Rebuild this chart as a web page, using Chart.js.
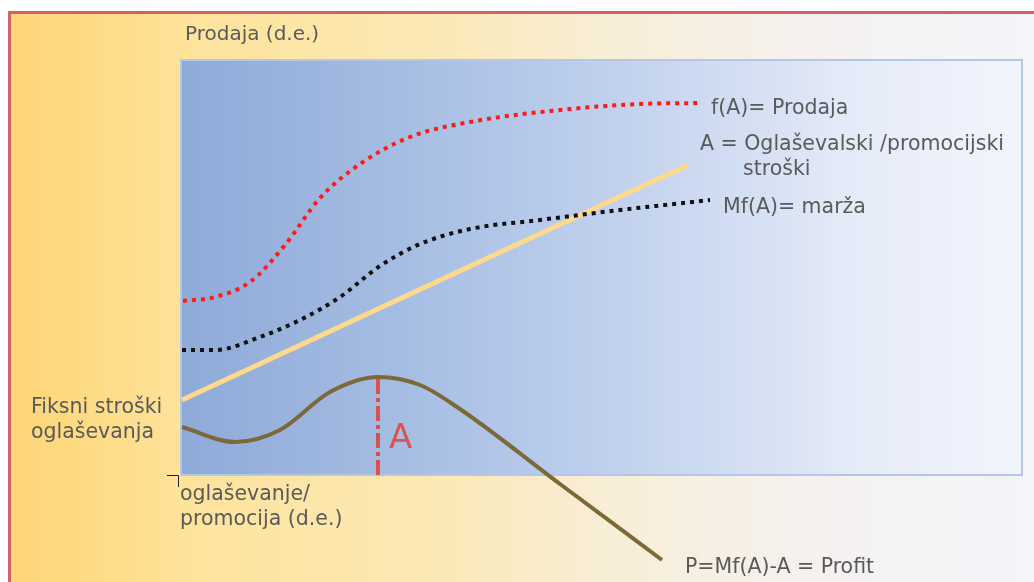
<!DOCTYPE html>
<html>
<head>
<meta charset="utf-8">
<script src="https://cdn.jsdelivr.net/npm/chart.js@4.4.0/dist/chart.umd.min.js"></script>
<style>
    html, body { margin: 0; padding: 0; background: #ffffff; }
    #wrap { width: 1034px; height: 582px; }
</style>
</head>
<body>
<div id="wrap"><canvas id="graf" width="1034" height="582"></canvas></div>
<script>
// vrijednosti u jedinicama dijagrama (x: oglasavanje, y: prodaja)
var prodajaX = [2, 34, 69, 104, 139, 179, 229, 289, 379, 459, 519];
var prodajaY = [174, 178, 193, 230, 277, 311, 338, 353, 365, 371, 372];

var marzaX = [1, 34, 79, 119, 159, 199, 239, 289, 359, 439, 529];
var marzaY = [125, 125, 138, 155, 178, 209, 231, 246, 255, 265, 275];

var troskoviX = [1, 507];
var troskoviY = [75, 310];

var profitX = [1, 54, 99, 149, 197, 239, 276, 379, 481];
var profitY = [48, 33, 45, 83, 98, 90, 68, -9, -85];

var optimumX = [197, 197];
var optimumY = [0, 98];

var xMax = 841;
var yMax = 415;

function tocke(xs, ys) {
    var lista = [];
    for (var i = 0; i < xs.length; i++) {
        lista.push({ x: xs[i], y: ys[i] });
    }
    return lista;
}

var pozadina = {
    id: 'pozadina',
    beforeDraw: function (chart) {
        var ctx = chart.ctx;
        var a = chart.chartArea;
        ctx.save();
        ctx.fillStyle = '#ffffff';
        ctx.fillRect(0, 0, chart.width, chart.height);

        // okvir
        var g = ctx.createLinearGradient(10, 0, chart.width, 0);
        g.addColorStop(0, '#fed67a');
        g.addColorStop(0.05, '#fed97f');
        g.addColorStop(0.17, '#fee39a');
        g.addColorStop(0.43, '#fbe9b8');
        g.addColorStop(0.58, '#f8eed6');
        g.addColorStop(0.78, '#f5f1ef');
        g.addColorStop(1, '#f4f5fa');
        ctx.fillStyle = g;
        ctx.fillRect(10, 13, chart.width - 10, chart.height - 13);

        ctx.strokeStyle = '#d46262';
        ctx.lineWidth = 3;
        ctx.beginPath();
        ctx.moveTo(9.5, chart.height);
        ctx.lineTo(9.5, 12.5);
        ctx.lineTo(chart.width, 12.5);
        ctx.stroke();

        // podrucje grafa
        var b = ctx.createLinearGradient(a.left, 0, a.right, 0);
        b.addColorStop(0, '#8eaad8');
        b.addColorStop(0.38, '#b1c6e8');
        b.addColorStop(0.62, '#cddaf1');
        b.addColorStop(0.8, '#e5ebf8');
        b.addColorStop(1, '#f3f5fd');
        ctx.fillStyle = b;
        ctx.fillRect(a.left, a.top, a.right - a.left, a.bottom - a.top);
        ctx.strokeStyle = '#b4c7e8';
        ctx.lineWidth = 2;
        ctx.strokeRect(a.left, a.top, a.right - a.left, a.bottom - a.top);

        // mala oznaka ishodista
        ctx.strokeStyle = '#222222';
        ctx.lineWidth = 1;
        ctx.beginPath();
        ctx.moveTo(167, a.bottom + 0.5);
        ctx.lineTo(178.5, a.bottom + 0.5);
        ctx.lineTo(178.5, a.bottom + 12);
        ctx.stroke();
        ctx.restore();
    }
};

var natpisi = {
    id: 'natpisi',
    afterDatasetsDraw: function (chart) {
        var ctx = chart.ctx;
        ctx.save();
        ctx.textBaseline = 'alphabetic';
        ctx.fillStyle = '#5a5a5a';
        ctx.font = '20px "DejaVu Sans"';
        ctx.fillText('Prodaja (d.e.)', 185, 40);

        ctx.font = '20.5px "DejaVu Sans"';
        ctx.fillText('f(A)= Prodaja', 711, 114);
        ctx.fillText('A = Oglaševalski /promocijski', 700, 150);
        ctx.fillText('stroški', 743, 175);
        ctx.fillText('Mf(A)= marža', 723, 213);
        ctx.fillText('Fiksni stroški', 31, 413);
        ctx.fillText('oglaševanja', 31, 438);
        ctx.fillText('oglaševanje/', 180, 500);
        ctx.fillText('promocija (d.e.)', 180, 525);
        ctx.fillText('P=Mf(A)-A = Profit', 685, 573);

        ctx.fillStyle = '#d9534f';
        ctx.font = '34px "DejaVu Sans"';
        ctx.fillText('A', 389, 448);
        ctx.restore();
    }
};

new Chart(document.getElementById('graf'), {
    type: 'line',
    data: {
        datasets: [{
            label: 'f(A)= Prodaja',
            data: tocke(prodajaX, prodajaY),
            borderColor: '#ff1a1a',
            borderWidth: 4,
            borderDash: [4, 5],
            cubicInterpolationMode: 'monotone'
        },
        {
            label: 'Mf(A)= marža',
            data: tocke(marzaX, marzaY),
            borderColor: '#111111',
            borderWidth: 4,
            borderDash: [4, 5],
            cubicInterpolationMode: 'monotone'
        },
        {
            label: 'A = Oglaševalski /promocijski stroški',
            data: tocke(troskoviX, troskoviY),
            borderColor: '#fdd98c',
            borderWidth: 5
        },
        {
            label: 'P=Mf(A)-A = Profit',
            data: tocke(profitX, profitY),
            borderColor: '#7d6838',
            borderWidth: 4,
            cubicInterpolationMode: 'monotone',
            clip: false
        },
        {
            label: 'A',
            data: tocke(optimumX, optimumY),
            borderColor: '#d65252',
            borderWidth: 4,
            borderDash: [15, 4, 4, 4]
        }]
    },
    options: {
        responsive: false,
        animation: false,
        layout: { padding: { left: 181, top: 60, right: 12, bottom: 107 } },
        elements: { point: { radius: 0 } },
        plugins: {
            legend: { display: false },
            tooltip: { enabled: false }
        },
        scales: {
            x: { type: 'linear', min: 0, max: xMax, display: false },
            y: { type: 'linear', min: 0, max: yMax, display: false }
        }
    },
    plugins: [pozadina, natpisi]
});
</script>
</body>
</html>
